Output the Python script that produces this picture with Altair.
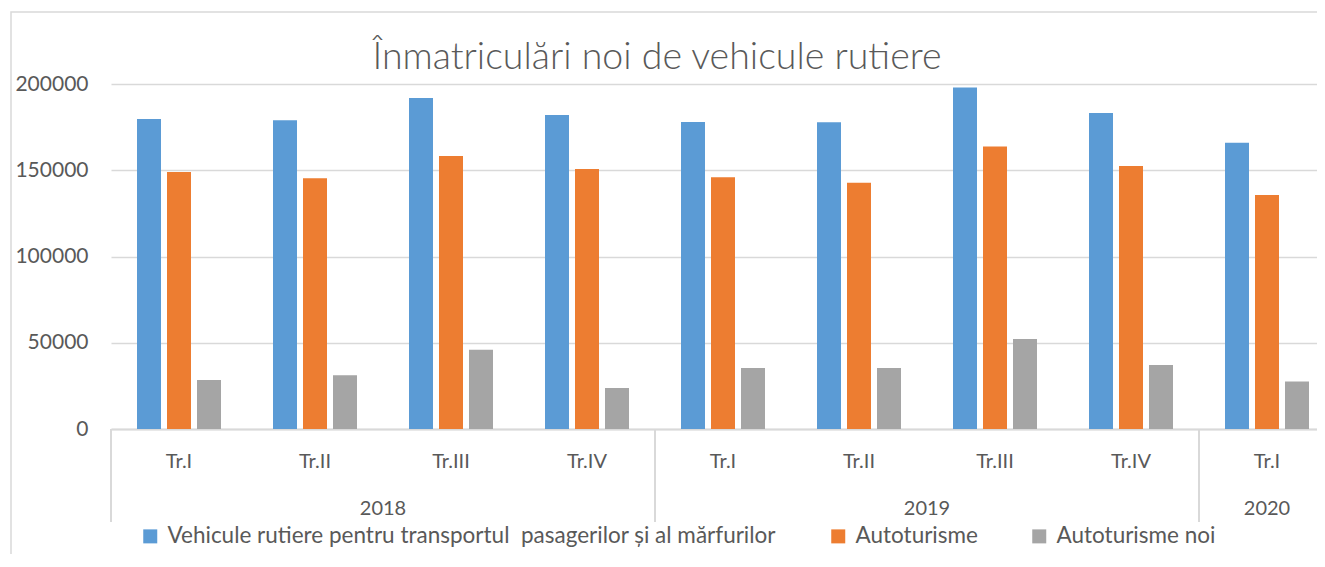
import altair as alt
import pandas as pd

title_text = "Înmatriculări noi de vehicule rutiere"
years = ["2018", "2018", "2018", "2018", "2019", "2019", "2019", "2019", "2020"]
quarters = ["Tr.I", "Tr.II", "Tr.III", "Tr.IV", "Tr.I", "Tr.II", "Tr.III", "Tr.IV", "Tr.I"]
series = [
    "Vehicule rutiere pentru transportul\u00a0 pasagerilor și al mărfurilor",
    "Autoturisme",
    "Autoturisme noi",
]
vehicule = [179700, 179000, 191900, 182000, 178000, 177800, 197900, 183200, 166000]
autoturisme = [149000, 145300, 158300, 150700, 145900, 142800, 163700, 152500, 135700]
autoturisme_noi = [28400, 31100, 46000, 23800, 35400, 35400, 52200, 37100, 27600]
colors = ["#5B9BD5", "#ED7D31", "#A5A5A5"]
y_ticks = [0, 50000, 100000, 150000, 200000]

keys = [f"{y}|{q}" for y, q in zip(years, quarters)]
rows = []
for vals, s in zip([vehicule, autoturisme, autoturisme_noi], series):
    for k, v in zip(keys, vals):
        rows.append({"key": k, "series": s, "value": v})
df = pd.DataFrame(rows)

FONT = "Lato"
TXT = "#595959"
GRID = "#D9D9D9"
W, H = 1206, 345

# the reference plot runs past the right edge of the picture
xscale = alt.Scale(domain=keys, range=[0, 1224], paddingInner=0, paddingOuter=0)

bars = alt.Chart(df).mark_bar().encode(
    x=alt.X(
        "key:N",
        scale=xscale,
        axis=alt.Axis(
            title=None,
            labelExpr="split(datum.value, '|')[1]",
            ticks=False,
            tickSize=0,
            labelAngle=0,
            labelFont=FONT,
            labelFontSize=20,
            labelColor=TXT,
            labelPadding=22,
            domainColor=GRID,
            domainWidth=2,
            grid=False,
        ),
    ),
    xOffset=alt.XOffset(
        "series:N",
        scale=alt.Scale(domain=series, paddingInner=0.2, paddingOuter=0.867),
    ),
    y=alt.Y(
        "value:Q",
        scale=alt.Scale(domain=[0, 200000], nice=False),
        axis=alt.Axis(
            title=None,
            values=y_ticks,
            format="d",
            ticks=False,
            tickSize=0,
            domain=False,
            labelFont=FONT,
            labelFontSize=21,
            labelColor=TXT,
            labelPadding=23,
            gridColor=GRID,
            gridWidth=1.5,
        ),
    ),
    color=alt.Color(
        "series:N",
        scale=alt.Scale(domain=series, range=colors),
        legend=alt.Legend(
            title=None,
            orient="none",
            legendX=28,
            legendY=441,
            direction="horizontal",
            symbolType="square",
            symbolSize=196,
            symbolStrokeWidth=0,
            labelFont=FONT,
            labelFontSize=22.5,
            labelColor=TXT,
            labelOffset=6,
            labelLimit=1000,
            columnPadding=50,
            padding=0,
        ),
    ),
)

# year labels (second level of the category axis)
yr_mid = pd.DataFrame({"key": ["2018|Tr.II", "2019|Tr.II"], "year": ["2018", "2019"]})
yr_one = pd.DataFrame({"key": ["2020|Tr.I"], "year": ["2020"]})

year_text_a = alt.Chart(yr_mid).mark_text(
    font=FONT, fontSize=20, color=TXT, baseline="alphabetic", align="center"
).encode(
    x=alt.X("key:N", scale=xscale, bandPosition=1),
    y=alt.value(431),
    text="year:N",
)
year_text_b = alt.Chart(yr_one).mark_text(
    font=FONT, fontSize=20, color=TXT, baseline="alphabetic", align="center"
).encode(
    x=alt.X("key:N", scale=xscale, bandPosition=0.5),
    y=alt.value(431),
    text="year:N",
)

sep = pd.DataFrame({"key": ["2018|Tr.I", "2019|Tr.I", "2020|Tr.I"]})
separators = alt.Chart(sep).mark_rule(color=GRID, strokeWidth=2).encode(
    x=alt.X("key:N", scale=xscale, bandPosition=0),
    y=alt.value(H),
    y2=alt.value(438),
)

frame = alt.Chart(pd.DataFrame({"a": [0]})).mark_rect(
    fillOpacity=0, stroke=GRID, strokeWidth=1.5
).encode(
    x=alt.value(-100),
    x2=alt.value(1400),
    y=alt.value(-72),
    y2=alt.value(700),
)

title = alt.Chart(pd.DataFrame({"t": [title_text]})).mark_text(
    font=FONT, fontSize=37.5, fontWeight=300, color=TXT, baseline="alphabetic", align="center"
).encode(
    x=alt.value(546),
    y=alt.value(-15),
    text="t:N",
)

chart = alt.layer(frame, bars, separators, year_text_a, year_text_b, title).properties(
    width=W,
    height=H,
    padding={"left": 103, "top": 76, "right": 0, "bottom": 125},
    autosize=alt.AutoSizeParams(type="none"),
).configure_view(strokeWidth=0)

chart.save("out.html", embed_options={"renderer": "svg", "actions": False})
